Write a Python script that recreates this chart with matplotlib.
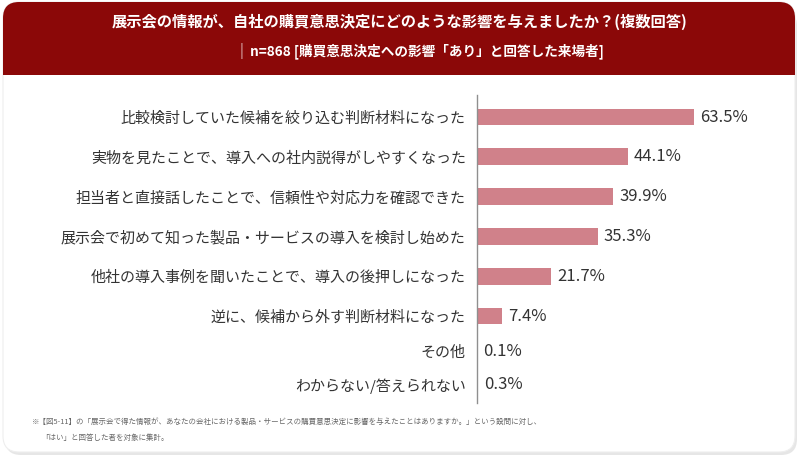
import matplotlib.pyplot as plt
from matplotlib.patches import FancyBboxPatch, Rectangle

plt.rcParams['font.family'] = ['Noto Sans CJK JP', 'DejaVu Sans']

# データ
categories = [
    '比較検討していた候補を絞り込む判断材料になった',
    '実物を見たことで、導入への社内説得がしやすくなった',
    '担当者と直接話したことで、信頼性や対応力を確認できた',
    '展示会で初めて知った製品・サービスの導入を検討し始めた',
    '他社の導入事例を聞いたことで、導入の後押しになった',
    '逆に、候補から外す判断材料になった',
    'その他',
    'わからない/答えられない',
]
values = [63.5, 44.1, 39.9, 35.3, 21.7, 7.4, 0.1, 0.3]

title1 = '展示会の情報が、自社の購買意思決定にどのような影響を与えましたか？(複数回答)'
title2 = 'n=868 [購買意思決定への影響「あり」と回答した来場者]'
note1 = '※【図5-11】の「展示会で得た情報が、あなたの会社における製品・サービスの購買意思決定に影響を与えたことはありますか。」という設問に対し、'
note2 = '「はい」と回答した者を対象に集計。'

fig = plt.figure(figsize=(8, 4.61), dpi=100)
fig.patch.set_facecolor('white')
tr = fig.dpi_scale_trans

# カードの影と本体
shadow = FancyBboxPatch((0.05, 0.06), 7.92, 4.45, boxstyle='round,pad=0,rounding_size=0.16',
                        transform=tr, facecolor='#e6e6e6', edgecolor='none', zorder=0)
card = FancyBboxPatch((0.03, 0.09), 7.92, 4.50, boxstyle='round,pad=0,rounding_size=0.16',
                      transform=tr, facecolor='white', edgecolor='#eeeeee', lw=0.8, zorder=1)
fig.patches.extend([shadow, card])

# ヘッダー
red = '#8b0808'
head = FancyBboxPatch((0.03, 3.86), 7.92, 0.73, boxstyle='round,pad=0,rounding_size=0.16',
                      transform=tr, facecolor=red, edgecolor='none', zorder=2)
head_fill = Rectangle((0.03, 3.86), 7.92, 0.3, transform=tr, facecolor=red,
                      edgecolor='none', zorder=2)
fig.patches.extend([head, head_fill])

fig.text(0.5, 1 - 22 / 461, title1, ha='center', va='center', color='white',
         fontsize=11.0, fontweight='bold', zorder=3)
fig.text(427 / 800, 1 - 51 / 461, title2, ha='center', va='center', color='white',
         fontsize=9.8, fontweight='bold', zorder=3)
fig.text(241 / 800, 1 - 51 / 461, '|', ha='center', va='center', color='#e8c8c8',
         fontsize=10.5, zorder=3)

# 棒グラフ（下2行は少し詰めて配置）
row_pos = [0, 1, 2, 3, 4, 5, 5.88, 6.73]
ax = fig.add_axes([477 / 800, 1 - 403 / 461, 310 / 800, 308 / 461])
ax.set_zorder(4)
ax.patch.set_alpha(0)
ax.barh(row_pos, values, height=0.42, color='#d0818a')
for yi, v in zip(row_pos, values):
    ax.text(v + 1.7, yi, f'{v}%', va='center', ha='left', fontsize=12, color='#333333')
ax.set_yticks(row_pos)
ax.set_yticklabels(categories, fontsize=10.8, color='#333333')
ax.tick_params(axis='y', length=0, pad=8)
ax.set_xticks([])
ax.set_xlim(0, 310 / 3.42)
unit = 39.8
ax.set_ylim((403 - 117) / unit, (95 - 117) / unit)
for s in ['top', 'right', 'bottom']:
    ax.spines[s].set_visible(False)
ax.spines['left'].set_color('#8f8f8f')
ax.spines['left'].set_linewidth(1)

# 注記
fig.text(32 / 800, 1 - 422 / 461, note1, ha='left', va='center', fontsize=5.4, color='#666666')
fig.text(41 / 800, 1 - 438 / 461, note2, ha='left', va='center', fontsize=5.4, color='#666666')

plt.savefig('out.png', dpi=100)
